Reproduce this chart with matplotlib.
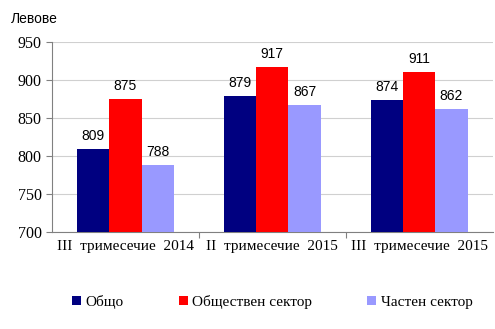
import numpy as np
import matplotlib.pyplot as plt

categories = ['III  тримесечие  2014', 'II  тримесечие  2015', 'III  тримесечие  2015']
series = ['Общо', 'Обществен сектор', 'Частен сектор']
total = [809, 879, 874]
public = [875, 917, 911]
private = [788, 867, 862]
colors = ['#000080', '#FF0000', '#9999FF']

fig = plt.figure(figsize=(4.95, 3.29), dpi=100)
ax = fig.add_axes([0.105, 0.295, 0.89, 0.577])

x = np.arange(len(categories))
w = 0.22
for i, (vals, name, c) in enumerate(zip([total, public, private], series, colors)):
    bars = ax.bar(x + (i - 1) * w, [v - 700 for v in vals], w, bottom=700, color=c, label=name, zorder=3)
    for b, v in zip(bars, vals):
        ax.text(b.get_x() + b.get_width() / 2, v + 8, str(v), ha='center', va='bottom',
                fontsize=10, family='Liberation Sans')

ax.set_ylim(700, 950)
ax.set_xlim(-0.5, 2.5)
ax.set_yticks(range(700, 951, 50))
ax.yaxis.grid(True, color='#d0d0d0', linewidth=0.8, zorder=0)
ax.set_xticks([0.5, 1.5], minor=False)
ax.set_xticklabels([])
ax.set_xticks(x, minor=True)
ax.set_xticklabels(categories, minor=True, family='Liberation Serif', fontsize=11)
ax.tick_params(axis='x', which='minor', length=0, pad=6)
ax.tick_params(axis='x', which='major', length=4, color='#808080')
ax.tick_params(axis='y', length=4, color='#808080', labelsize=11.5)
for t in ax.get_yticklabels():
    t.set_family('Liberation Serif')
for s in ['top', 'right']:
    ax.spines[s].set_visible(False)
ax.spines['left'].set_color('#808080')
ax.spines['bottom'].set_color('#808080')

fig.text(0.022, 0.965, 'Левове', fontsize=10, family='Liberation Sans', va='top')
leg = fig.legend(loc='center', bbox_to_anchor=(0.55, 0.082), ncol=3, frameon=False,
                 prop={'family': 'Liberation Serif', 'size': 11},
                 handlelength=0.6, handleheight=0.6, handletextpad=0.3, columnspacing=3.6)

fig.savefig('out.png', dpi=100)
